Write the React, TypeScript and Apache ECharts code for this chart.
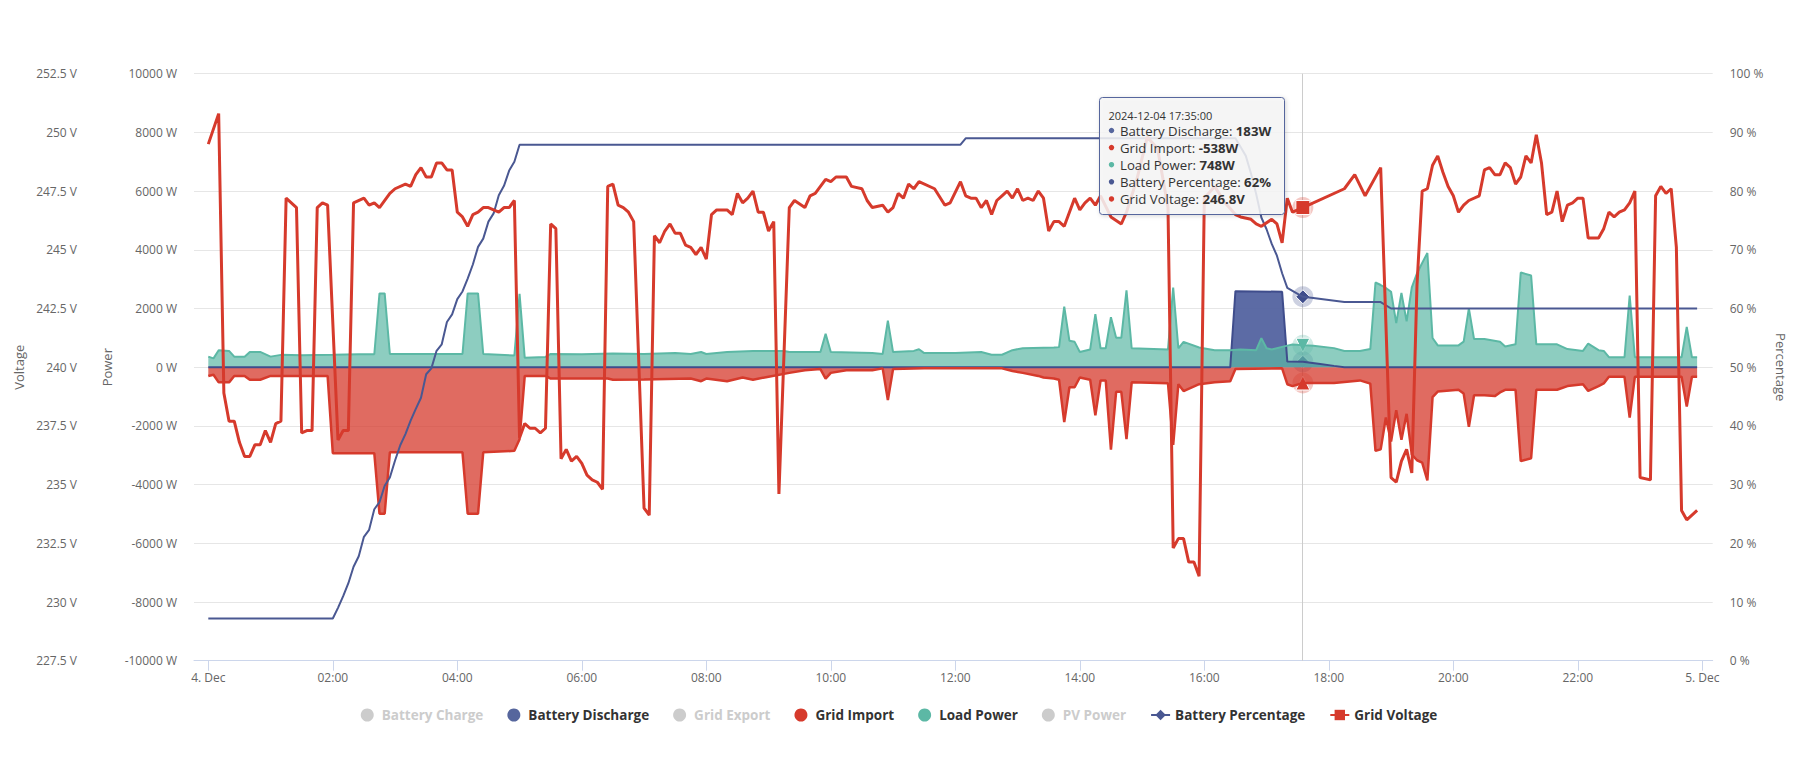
import React, { useEffect, useRef } from "react";
import * as echarts from "echarts";

const FONT = '"Open Sans", "Noto Sans", sans-serif';

// ---------- DATA (times are HH:MM on 2024-12-04) ----------
const dayLabel = "2024-12-04";
const hoverTime = "17:35";

const dischargeTimes = ["00:00", "16:25", "16:30", "17:15", "17:20", "17:35", "17:50", "18:05", "18:15", "23:55"];
const dischargeValues = [0, 0, 2590, 2570, 190, 183, 120, 45, 0, 0];

const loadTimes = ["00:00","00:05","00:10","00:20","00:25","00:35","00:40","00:50","01:00","01:10","01:30","02:00","02:25","02:40","02:45","02:50","02:55","04:05","04:10","04:20","04:25","04:55","05:00","05:05","05:25","05:30","06:00","06:30","07:00","07:30","07:45","07:55","08:00","08:20","08:45","09:15","09:20","09:50","09:55","10:00","10:40","10:50","10:55","11:00","11:20","11:25","11:30","12:00","12:25","12:35","12:45","12:55","13:05","13:35","13:40","13:45","13:50","13:55","14:00","14:10","14:15","14:20","14:25","14:30","14:35","14:40","14:45","14:50","15:25","15:30","15:35","15:40","15:55","16:10","16:25","16:35","16:50","16:55","17:00","17:05","17:20","17:25","17:35","17:45","18:05","18:15","18:30","18:40","18:45","18:50","18:55","19:00","19:05","19:10","19:15","19:20","19:25","19:30","19:35","19:40","19:45","20:05","20:10","20:15","20:20","20:30","20:45","20:50","21:00","21:05","21:15","21:20","21:40","21:50","22:05","22:10","22:20","22:25","22:30","22:45","22:50","22:55","23:40","23:45","23:50","23:55"];
const loadValues = [360,300,580,555,360,360,520,520,360,420,410,420,440,440,2515,2515,450,450,2515,2515,450,400,2500,320,350,450,440,470,450,480,450,516,450,516,555,555,516,516,1135,516,480,450,1587,516,555,610,480,480,516,425,425,580,645,670,684,2064,900,864,516,606,1806,645,645,1703,1000,1000,2619,645,606,2709,645,864,670,580,580,606,580,990,645,606,735,770,748,730,650,554,554,617,2885,2800,2700,2570,1500,2530,1560,2720,3200,3550,3893,995,743,743,870,2003,958,958,870,706,780,3226,3125,780,780,617,554,806,580,554,340,340,2444,340,340,1373,340,340];

const importTimes = ["00:00","00:05","00:10","00:20","00:25","00:35","00:40","00:50","01:00","01:55","02:00","02:40","02:45","02:50","02:55","04:05","04:10","04:20","04:25","04:55","05:00","05:05","05:25","05:30","06:25","06:30","07:00","07:45","07:55","08:00","08:20","08:35","08:45","09:00","09:20","09:35","09:50","09:55","10:00","10:15","10:40","10:50","10:55","11:00","11:30","12:45","12:55","13:05","13:20","13:25","13:35","13:40","13:45","13:50","13:55","14:00","14:10","14:15","14:20","14:25","14:30","14:35","14:40","14:45","14:50","15:25","15:30","15:35","15:40","15:55","16:10","16:25","16:30","17:15","17:20","17:25","17:35","18:05","18:30","18:40","18:45","18:50","18:55","19:00","19:05","19:10","19:15","19:20","19:25","19:30","19:35","19:40","19:45","20:05","20:10","20:15","20:20","20:30","20:40","20:45","20:50","21:00","21:05","21:15","21:20","21:40","21:50","22:05","22:10","22:20","22:25","22:30","22:45","22:50","22:55","23:40","23:45","23:50","23:55"];
const importValues = [-297,-258,-516,-516,-297,-297,-426,-426,-297,-297,-2928,-2928,-4992,-4992,-2900,-2900,-4992,-4992,-2900,-2850,-2451,-297,-297,-387,-387,-426,-420,-387,-477,-387,-477,-350,-426,-323,-193,-103,-65,-387,-193,-103,-103,-40,-1122,-65,-40,-40,-130,-193,-297,-350,-387,-426,-1870,-684,-684,-350,-426,-1638,-452,-452,-2812,-838,-838,-2451,-516,-550,-2644,-580,-812,-580,-516,-477,-65,-40,-580,-645,-538,-538,-450,-560,-2848,-2800,-1714,-2533,-1462,-2470,-1588,-2974,-3170,-3250,-3856,-1020,-832,-770,-900,-2029,-958,-958,-985,-860,-770,-770,-3200,-3100,-770,-770,-643,-580,-806,-643,-555,-328,-328,-1714,-328,-328,-1336,-328,-328];

const pctTimes = ["00:00","02:00","02:05","02:10","02:15","02:20","02:25","02:30","02:35","02:40","02:45","02:50","02:55","03:00","03:05","03:10","03:15","03:20","03:25","03:30","03:35","03:40","03:45","03:50","03:55","04:00","04:05","04:10","04:15","04:20","04:25","04:30","04:35","04:40","04:45","04:50","04:55","05:00","12:05","12:10","16:30","16:35","16:40","16:45","16:50","16:55","17:00","17:05","17:10","17:15","17:20","17:25","17:30","17:35","17:45","18:15","18:50","19:00","23:55"];
const pctValues = [7.2,7.2,9,11,13.2,16,17.8,21.1,22.3,25.8,27,29.8,31.2,34.1,36.7,38.6,40.9,42.9,44.8,48.8,49.8,52.8,53.9,57.7,59,61.6,62.9,65.1,67.5,70.5,71.9,74.8,76.2,79.3,80.9,83.5,85,87.9,87.9,89,89,87.5,86,83,79.5,75.5,73.5,71,69,66,63.5,63,62.5,62,61.8,61.1,61.1,60,60];

const voltTimes = ["00:00","00:10","00:15","00:20","00:25","00:30","00:35","00:40","00:45","00:50","00:55","01:00","01:05","01:10","01:15","01:25","01:30","01:35","01:40","01:45","01:50","01:55","02:05","02:10","02:15","02:20","02:30","02:35","02:40","02:45","02:55","03:00","03:10","03:15","03:20","03:25","03:30","03:35","03:40","03:45","03:50","03:55","04:00","04:05","04:10","04:15","04:20","04:25","04:30","04:35","04:40","04:45","04:50","04:55","05:00","05:05","05:10","05:15","05:20","05:25","05:30","05:35","05:40","05:45","05:50","05:55","06:00","06:05","06:10","06:15","06:20","06:25","06:30","06:35","06:40","06:45","06:50","07:00","07:05","07:10","07:15","07:20","07:25","07:30","07:35","07:40","07:45","07:50","07:55","08:00","08:05","08:10","08:20","08:25","08:30","08:35","08:40","08:45","08:50","08:55","09:00","09:05","09:10","09:20","09:25","09:35","09:40","09:45","09:50","09:55","10:00","10:05","10:15","10:20","10:30","10:35","10:40","10:50","10:55","11:00","11:05","11:10","11:15","11:20","11:25","11:40","11:50","11:55","12:05","12:10","12:15","12:20","12:25","12:30","12:35","12:40","12:45","12:50","12:55","13:00","13:05","13:10","13:15","13:20","13:25","13:30","13:35","13:40","13:45","13:50","13:55","14:00","14:05","14:10","14:15","14:20","14:30","14:40","14:45","14:55","15:05","15:15","15:25","15:30","15:35","15:40","15:45","15:50","15:55","16:00","16:10","16:20","16:30","16:35","16:45","16:50","16:55","17:05","17:10","17:15","17:20","17:25","17:35","18:15","18:25","18:35","18:50","19:00","19:05","19:10","19:15","19:20","19:25","19:30","19:35","19:40","19:45","19:50","19:55","20:00","20:05","20:10","20:15","20:25","20:30","20:35","20:40","20:45","20:50","20:55","21:00","21:05","21:10","21:15","21:20","21:25","21:30","21:35","21:40","21:45","21:50","21:55","22:00","22:05","22:10","22:20","22:25","22:30","22:35","22:40","22:45","22:50","22:55","23:00","23:10","23:15","23:20","23:25","23:30","23:35","23:40","23:45","23:55"];
const voltValues = [249.5,250.8,238.9,237.7,237.7,236.8,236.2,236.2,236.7,236.7,237.3,236.8,237.6,237.7,247.2,246.8,237.2,237.3,237.3,246.8,247.0,246.9,236.9,237.3,237.3,247.0,247.2,246.9,247.0,246.8,247.4,247.6,247.8,247.7,248.2,248.5,248.1,248.1,248.7,248.7,248.4,248.4,246.6,246.4,246.0,246.5,246.6,246.8,246.8,246.7,246.6,246.8,246.8,247.1,237.0,237.6,237.4,237.4,237.2,237.4,246.1,245.9,236.1,236.5,236.0,236.2,235.9,235.4,235.2,235.1,234.8,247.7,247.8,246.9,246.8,246.6,246.2,234.0,233.7,245.6,245.3,245.8,246.1,245.7,245.7,245.2,245.1,244.8,245.1,244.6,246.5,246.7,246.7,246.5,247.4,247.0,247.2,247.5,246.6,246.6,245.8,246.2,234.6,246.8,247.1,246.8,247.3,247.4,247.7,248.0,247.9,248.1,248.1,247.7,247.6,247.1,246.8,246.9,246.6,246.8,247.4,247.2,247.8,247.6,247.9,247.6,246.9,247.0,247.9,247.3,247.2,247.2,246.8,247.1,246.5,247.1,247.3,247.5,247.2,247.6,247.1,247.2,247.1,247.5,247.2,245.8,246.2,246.2,246.0,246.6,247.2,246.7,247.0,247.2,246.9,247.3,246.4,246.1,246.6,248.0,249.8,249.3,246.8,232.3,232.7,232.7,231.7,231.7,231.1,247.2,247.7,247.0,246.5,246.4,246.3,246.1,246.0,246.3,246.1,245.3,247.2,246.6,246.8,247.6,248.2,247.3,248.5,235.3,235.1,236.0,236.5,235.5,243.5,247.5,247.6,248.6,249.0,248.3,247.7,247.3,246.6,246.9,247.1,247.3,248.4,248.5,248.2,248.2,248.7,248.5,247.8,248.1,249.0,248.7,249.9,248.7,246.5,246.6,247.5,246.2,246.9,247.0,247.2,247.2,245.5,245.5,245.9,246.6,246.4,246.6,246.7,247.0,247.5,235.3,235.2,247.3,247.7,247.4,247.6,245.1,233.9,233.5,233.9];

const xTickLabels = ["4. Dec", "02:00", "04:00", "06:00", "08:00", "10:00", "12:00", "14:00", "16:00", "18:00", "20:00", "22:00", "5. Dec"];

// ---------- HELPERS ----------
const toH = (t: string) => {
  const [h, m] = t.split(":").map(Number);
  return h + m / 60;
};
const pairs = (ts: string[], vs: number[]) => ts.map((t, i) => [toH(t), vs[i]]);
const valueAt = (ts: string[], vs: number[], t: string) => vs[ts.indexOf(t)];

const C_DIS_LINE = "#3f4d8c";
const C_DIS = "#56669d";
const C_RED = "#d63a2c";
const C_TEAL = "#5cb8a5";
const C_PCT = "#4a5892";

const hoverX = toH(hoverTime);
const hv = {
  dis: valueAt(dischargeTimes, dischargeValues, hoverTime),
  imp: valueAt(importTimes, importValues, hoverTime),
  load: valueAt(loadTimes, loadValues, hoverTime),
  pct: valueAt(pctTimes, pctValues, hoverTime),
  volt: valueAt(voltTimes, voltValues, hoverTime),
};

const halo = (name: string, y: number, yAxisIndex: number, color: string) => ({
  name,
  type: "scatter",
  xAxisIndex: 0,
  yAxisIndex,
  silent: true,
  symbol: "circle",
  symbolSize: 21,
  itemStyle: { color, opacity: 0.28 },
  data: [[hoverX, y]],
});
const marker = (name: string, y: number, yAxisIndex: number, color: string, symbol: string, size: number, rotate = 0) => ({
  name,
  type: "scatter",
  xAxisIndex: 0,
  yAxisIndex,
  silent: true,
  symbol,
  symbolSize: size,
  symbolRotate: rotate,
  itemStyle: { color, borderColor: "#ffffff", borderWidth: 1, opacity: 1 },
  data: [[hoverX, y]],
});

const axisLabelStyle = { color: "#666666", fontSize: 12, fontFamily: FONT };
const axisNameStyle = { color: "#666666", fontSize: 13, fontFamily: FONT };

const fmtVolt = (v: number) => {
  const r = Math.round(v * 10) / 10;
  return `${Number.isInteger(r) ? r : r.toFixed(1)} V`;
};

const tipRows = [
  { label: "Battery Discharge", value: `${hv.dis}W`, color: C_DIS },
  { label: "Grid Import", value: `${hv.imp}W`, color: C_RED },
  { label: "Load Power", value: `${hv.load}W`, color: C_TEAL },
  { label: "Battery Percentage", value: `${hv.pct}%`, color: C_PCT },
  { label: "Grid Voltage", value: `${hv.volt}V`, color: C_RED },
];

const tipX = 1099.5;
const tipY = 97.5;
const tipElements: any[] = [
  {
    type: "rect",
    z: 100,
    shape: { x: tipX, y: tipY, width: 185, height: 117, r: 3 },
    style: {
      fill: "rgba(247,247,247,0.85)",
      stroke: C_DIS,
      lineWidth: 1,
      shadowBlur: 4,
      shadowColor: "rgba(0,0,0,0.18)",
      shadowOffsetX: 1,
      shadowOffsetY: 1,
    },
  },
  {
    type: "text",
    z: 101,
    x: tipX + 9,
    y: tipY + 17.5,
    style: {
      text: `${dayLabel} ${hoverTime}:00`,
      fontSize: 11,
      fontFamily: FONT,
      fill: "#333333",
      verticalAlign: "middle",
    },
  },
  ...tipRows.flatMap((row, i) => {
    const cy = tipY + 33 + i * 17.1;
    return [
      { type: "circle", z: 101, shape: { cx: tipX + 12, cy, r: 2.7 }, style: { fill: row.color } },
      {
        type: "text",
        z: 101,
        x: tipX + 20.5,
        y: cy,
        style: {
          text: `${row.label}: {b|${row.value}}`,
          fontSize: 13.2,
          fontFamily: FONT,
          fill: "#333333",
          verticalAlign: "middle",
          rich: { b: { fontSize: 13.2, fontFamily: FONT, fontWeight: "bold", fill: "#333333" } },
        },
      },
    ];
  }),
];

const option: any = {
  animation: false,
  backgroundColor: "#ffffff",
  textStyle: { fontFamily: FONT },
  grid: [
    { left: 194, right: 85.3, top: 73.7, bottom: 97.3 },
    { left: 208.3, right: 95.7, top: 73.7, bottom: 97.3 },
  ],
  xAxis: [
    {
      type: "value",
      gridIndex: 0,
      min: -0.2297,
      max: 24.167,
      axisLine: { show: true, onZero: false, lineStyle: { color: "#ccd6eb", width: 1 } },
      axisTick: { show: false },
      axisLabel: { show: false },
      splitLine: { show: false },
    },
    {
      type: "value",
      gridIndex: 1,
      min: 0,
      max: 24,
      interval: 2,
      axisLine: { show: false, onZero: false },
      axisTick: { show: true, length: 10, lineStyle: { color: "#ccd6eb" } },
      axisLabel: {
        ...axisLabelStyle,
        margin: 11,
        formatter: (v: number) => xTickLabels[Math.round(v / 2)] ?? "",
      },
      splitLine: { show: false },
    },
  ],
  yAxis: [
    {
      type: "value",
      gridIndex: 0,
      position: "left",
      min: -10000,
      max: 10000,
      interval: 2000,
      name: "Power",
      nameLocation: "middle",
      nameGap: 81,
      nameRotate: 90,
      nameTextStyle: axisNameStyle,
      axisLine: { show: false, onZero: false },
      axisTick: { show: false },
      axisLabel: { ...axisLabelStyle, margin: 17, formatter: (v: number) => `${Math.round(v)} W` },
      splitLine: { show: true, lineStyle: { color: "#e6e6e6", width: 1 } },
    },
    {
      type: "value",
      gridIndex: 0,
      position: "left",
      offset: 100,
      min: 227.5,
      max: 252.5,
      interval: 2.5,
      name: "Voltage",
      nameLocation: "middle",
      nameGap: 69,
      nameRotate: 90,
      nameTextStyle: axisNameStyle,
      axisLine: { show: false, onZero: false },
      axisTick: { show: false },
      axisLabel: { ...axisLabelStyle, margin: 17, formatter: fmtVolt },
      splitLine: { show: false },
    },
    {
      type: "value",
      gridIndex: 0,
      position: "right",
      min: 0,
      max: 100,
      interval: 10,
      name: "Percentage",
      nameLocation: "middle",
      nameGap: 61,
      nameRotate: -90,
      nameTextStyle: axisNameStyle,
      axisLine: { show: false, onZero: false },
      axisTick: { show: false },
      axisLabel: { ...axisLabelStyle, margin: 17, formatter: (v: number) => `${Math.round(v)} %` },
      splitLine: { show: false },
    },
    { type: "value", gridIndex: 1, show: false, min: 0, max: 1 },
  ],
  legend: {
    data: [
      { name: "Battery Charge", icon: "circle" },
      { name: "Battery Discharge", icon: "circle" },
      { name: "Grid Export", icon: "circle" },
      { name: "Grid Import", icon: "circle" },
      { name: "Load Power", icon: "circle" },
      { name: "PV Power", icon: "circle" },
      { name: "Battery Percentage" },
      { name: "Grid Voltage" },
    ],
    selected: { "Battery Charge": false, "Grid Export": false, "PV Power": false },
    left: "center",
    top: 703,
    itemWidth: 19,
    itemHeight: 13,
    itemGap: 24,
    inactiveColor: "#cccccc",
    textStyle: { fontFamily: FONT, fontSize: 13.5, fontWeight: "bold", color: "#333333" },
  },
  graphic: { elements: tipElements },
  series: [
    { name: "Battery Charge", type: "line", data: [], itemStyle: { color: "#7cb5ec" } },
    {
      name: "Battery Discharge",
      type: "line",
      xAxisIndex: 0,
      yAxisIndex: 0,
      data: pairs(dischargeTimes, dischargeValues),
      showSymbol: false,
      symbol: "diamond",
      silent: true,
      lineStyle: { color: C_DIS_LINE, width: 2 },
      itemStyle: { color: C_DIS },
      areaStyle: { color: "#5363a0", opacity: 0.95 },
      markLine: {
        silent: true,
        z: 1,
        symbol: ["none", "none"],
        label: { show: false },
        lineStyle: { color: "#cccccc", width: 1, type: "solid" },
        data: [{ xAxis: hoverX }],
      },
    },
    halo("h-dis", hv.dis, 0, C_DIS_LINE),
    marker("m-dis", hv.dis, 0, C_DIS_LINE, "diamond", 13),
    { name: "Grid Export", type: "line", data: [], itemStyle: { color: "#90ed7d" } },
    {
      name: "Grid Import",
      type: "line",
      xAxisIndex: 0,
      yAxisIndex: 0,
      data: pairs(importTimes, importValues),
      showSymbol: false,
      symbol: "triangle",
      silent: true,
      lineStyle: { color: C_RED, width: 2.5 },
      itemStyle: { color: C_RED },
      areaStyle: { color: C_RED, opacity: 0.75 },
    },
    halo("h-imp", hv.imp, 0, C_RED),
    marker("m-imp", hv.imp, 0, C_RED, "triangle", 14),
    {
      name: "Load Power",
      type: "line",
      xAxisIndex: 0,
      yAxisIndex: 0,
      data: pairs(loadTimes, loadValues),
      showSymbol: false,
      symbol: "triangle",
      silent: true,
      lineStyle: { color: C_TEAL, width: 2 },
      itemStyle: { color: C_TEAL },
      areaStyle: { color: C_TEAL, opacity: 0.7 },
    },
    halo("h-load", hv.load, 0, C_TEAL),
    marker("m-load", hv.load, 0, C_TEAL, "triangle", 14, 180),
    { name: "PV Power", type: "line", data: [], itemStyle: { color: "#f7a35c" } },
    {
      name: "Battery Percentage",
      type: "line",
      xAxisIndex: 0,
      yAxisIndex: 2,
      data: pairs(pctTimes, pctValues),
      showSymbol: false,
      symbol: "diamond",
      silent: true,
      lineStyle: { color: C_PCT, width: 2 },
      itemStyle: { color: C_PCT },
    },
    halo("h-pct", hv.pct, 2, C_PCT),
    marker("m-pct", hv.pct, 2, C_DIS_LINE, "diamond", 14),
    {
      name: "Grid Voltage",
      type: "line",
      xAxisIndex: 0,
      yAxisIndex: 1,
      data: pairs(voltTimes, voltValues),
      showSymbol: false,
      symbol: "rect",
      silent: true,
      lineStyle: { color: C_RED, width: 3 },
      itemStyle: { color: C_RED },
    },
    halo("h-volt", hv.volt, 1, C_RED),
    marker("m-volt", hv.volt, 1, C_RED, "rect", 14),
  ],
};

export default function App() {
  const ref = useRef<HTMLDivElement>(null);
  useEffect(() => {
    if (!ref.current) return;
    const chart = echarts.init(ref.current, null, { renderer: "svg" });
    chart.setOption(option);
    return () => chart.dispose();
  }, []);
  return (
    <div
      ref={ref}
      style={{ position: "fixed", left: 0, top: 0, width: 1798, height: 758, background: "#ffffff" }}
    />
  );
}
